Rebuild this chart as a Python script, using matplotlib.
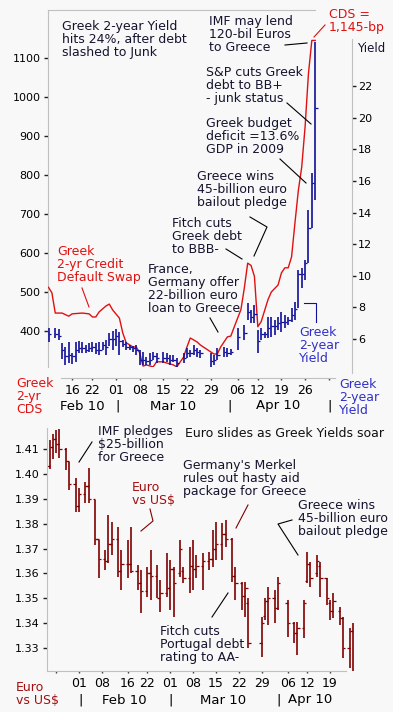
import matplotlib.pyplot as plt
from matplotlib.lines import Line2D
from matplotlib.transforms import blended_transform_factory

plt.rcParams['font.family'] = ['DejaVu Sans']

# days counted from 01 Mar 2010
# Greek 2-yr CDS (bp)
cds_day = [-20, -19, -18, -16, -14, -13, -10, -8, -7, -6, -5, -3, -2, -1, 1, 2, 3, 5, 6, 7,
           8, 9, 11, 12, 14, 15, 17, 18, 20, 21, 22, 24, 25, 29, 30, 31, 33, 34, 35, 37,
           38, 39, 40, 41, 42, 43, 45, 46, 48, 49, 50, 51, 52, 53, 54, 55, 56, 57, 58, 59]
cds_val = [512, 498, 446, 446, 438, 444, 446, 444, 436, 436, 449, 464, 469, 454, 433, 395, 370, 359, 359, 344,
           310, 313, 308, 321, 321, 318, 313, 308, 333, 359, 382, 372, 364, 341, 341, 359, 385, 387, 410, 455,
           510, 574, 568, 540, 411, 424, 480, 500, 518, 549, 562, 562, 590, 677, 760, 820, 923, 1060, 1145, 1145]

# Greek 2-year yield (%)
yld_day = [-20, -18, -17, -16, -15, -14, -13, -12, -11, -10, -9, -8, -7, -6, -5, -4, -3, -2, -1, 0,
           1, 2, 3, 4, 5, 6, 7, 8, 9, 10, 11, 12, 14, 15, 16, 17, 18, 20, 21, 22,
           23, 24, 25, 28, 29, 30, 32, 33, 34, 36, 38, 39, 40, 41, 42, 43, 44, 45, 46, 47,
           48, 49, 50, 51, 52, 53, 54, 55, 56, 57, 58, 59]
yld_high = [6.70, 6.70, 6.63, 5.75, 5.49, 5.81, 5.11, 5.81, 5.87, 5.81, 5.62, 5.75, 5.81, 5.75, 5.81, 5.81, 5.94, 6.38, 6.51, 6.63,
            6.44, 5.94, 5.81, 5.62, 5.56, 5.62, 5.30, 5.18, 4.86, 5.11, 5.18, 5.11, 5.18, 5.11, 4.99, 4.99, 4.80, 5.11, 5.43, 5.30,
            5.62, 5.43, 5.30, 5.11, 4.99, 5.43, 5.49, 5.43, 5.37, 6.70, 6.89, 8.28, 7.84, 8.15, 6.57, 6.70, 6.44, 7.39, 7.39, 7.20,
            7.39, 7.71, 7.52, 7.39, 7.96, 8.34, 10.37, 10.49, 11.0, 14.16, 16.5, 24.8]
yld_low = [5.81, 6.06, 5.94, 4.73, 4.35, 4.48, 4.42, 4.54, 5.11, 5.11, 5.11, 5.18, 5.18, 5.05, 4.99, 5.30, 4.99, 5.56, 5.30, 5.56,
           4.99, 5.49, 5.30, 5.30, 5.18, 4.99, 4.35, 4.35, 4.35, 4.35, 4.67, 4.48, 4.48, 4.54, 4.35, 4.54, 4.23, 4.48, 4.80, 4.86,
           4.99, 4.86, 4.80, 4.23, 4.35, 4.67, 4.86, 4.86, 4.99, 5.30, 5.94, 7.20, 7.01, 7.01, 5.11, 5.94, 6.06, 6.06, 6.13, 6.25,
           6.57, 6.44, 6.70, 6.89, 7.08, 7.20, 7.96, 9.23, 9.73, 10.81, 13.0, 14.8]
yld_close = [6.3, 6.3, 6.2, 5.3, 4.9, 5.0, 4.9, 5.3, 5.4, 5.4, 5.3, 5.4, 5.5, 5.3, 5.3, 5.6, 5.5, 6.0, 6.0, 6.2,
             5.9, 5.7, 5.5, 5.5, 5.4, 5.3, 4.7, 4.7, 4.6, 4.7, 4.9, 4.8, 4.8, 4.8, 4.7, 4.7, 4.5, 4.8, 5.1, 5.1,
             5.3, 5.2, 5.1, 4.6, 4.7, 5.0, 5.2, 5.1, 5.2, 6.1, 6.4, 7.7, 7.4, 7.6, 5.9, 6.3, 6.3, 6.7, 6.8, 6.8,
             7.0, 7.1, 7.1, 7.2, 7.5, 7.9, 10.1, 10.1, 10.8, 13.0, 15.9, 20.6]

# Euro vs US$
eur_day = [-37, -36, -35, -34, -32, -31, -29, -28, -26, -25, -23, -22, -20, -19, -18, -16, -15, -13, -12, -10,
           -9, -7, -6, -4, -3, -1, 0, 1, 3, 4, 6, 7, 8, 10, 12, 13, 14, 16, 17, 19,
           20, 22, 23, 24, 28, 29, 30, 32, 33, 36, 38, 39, 41, 42, 43, 45, 46, 48, 49, 50,
           52, 53, 55, 56]
eur_high = [1.4136, 1.4160, 1.4176, 1.4180, 1.4104, 1.4048, 1.3984, 1.3943, 1.3967, 1.4024, 1.3895, 1.3735, 1.3694, 1.3835, 1.3807, 1.3787, 1.3694, 1.3735, 1.3787, 1.3634,
            1.3614, 1.3626, 1.3694, 1.3634, 1.3574, 1.3682, 1.3654, 1.3626, 1.3735, 1.3626, 1.3706, 1.3735, 1.3674, 1.3682, 1.3686, 1.3775, 1.3807, 1.3803, 1.3815, 1.3743,
            1.3626, 1.3566, 1.3566, 1.3502, 1.3425, 1.3502, 1.3546, 1.3534, 1.3586, 1.3494, 1.3405, 1.3405, 1.3494, 1.3686, 1.3646, 1.3674, 1.3646, 1.3582, 1.3494, 1.3522,
            1.3465, 1.3425, 1.3381, 1.3401]
eur_low = [1.4020, 1.4060, 1.4084, 1.4064, 1.4016, 1.3935, 1.3847, 1.3847, 1.3883, 1.3883, 1.3714, 1.3582, 1.3614, 1.3642, 1.3674, 1.3586, 1.3534, 1.3582, 1.3602, 1.3534,
           1.3441, 1.3506, 1.3494, 1.3502, 1.3445, 1.3506, 1.3453, 1.3425, 1.3586, 1.3562, 1.3522, 1.3534, 1.3582, 1.3534, 1.3614, 1.3626, 1.3654, 1.3654, 1.3706, 1.3566,
           1.3494, 1.3453, 1.3425, 1.3301, 1.3265, 1.3413, 1.3393, 1.3401, 1.3453, 1.3345, 1.3321, 1.3273, 1.3341, 1.3562, 1.3546, 1.3586, 1.3506, 1.3473, 1.3413, 1.3421,
           1.3393, 1.3261, 1.3220, 1.3184]
eur_open = [1.4030, 1.4110, 1.4140, 1.4120, 1.4100, 1.4050, 1.3960, 1.3870, 1.3920, 1.3950, 1.3900, 1.3740, 1.3660, 1.3650, 1.3720, 1.3740, 1.3610, 1.3640, 1.3640, 1.3610,
            1.3560, 1.3530, 1.3600, 1.3590, 1.3500, 1.3520, 1.3540, 1.3620, 1.3600, 1.3610, 1.3580, 1.3630, 1.3620, 1.3630, 1.3650, 1.3660, 1.3700, 1.3720, 1.3760, 1.3740,
            1.3590, 1.3560, 1.3510, 1.3480, 1.3320, 1.3430, 1.3490, 1.3500, 1.3460, 1.3480, 1.3400, 1.3360, 1.3380, 1.3570, 1.3640, 1.3600, 1.3630, 1.3580, 1.3480, 1.3450,
            1.3450, 1.3420, 1.3300, 1.3370]
eur_close = [1.4110, 1.4140, 1.4120, 1.4100, 1.4050, 1.3960, 1.3870, 1.3920, 1.3950, 1.3900, 1.3740, 1.3660, 1.3650, 1.3720, 1.3740, 1.3610, 1.3640, 1.3640, 1.3610, 1.3560,
             1.3530, 1.3600, 1.3590, 1.3500, 1.3520, 1.3540, 1.3620, 1.3560, 1.3700, 1.3580, 1.3630, 1.3620, 1.3630, 1.3650, 1.3660, 1.3700, 1.3720, 1.3760, 1.3740, 1.3590,
             1.3560, 1.3510, 1.3540, 1.3320, 1.3400, 1.3490, 1.3500, 1.3460, 1.3560, 1.3400, 1.3360, 1.3380, 1.3480, 1.3640, 1.3580, 1.3650, 1.3580, 1.3500, 1.3450, 1.3490,
             1.3420, 1.3300, 1.3370, 1.3190]

top_ticks = [-13, -7, 0, 7, 14, 21, 28, 36, 42, 49, 56]
top_labels = ['16', '22', '01', '08', '15', '22', '29', '06', '12', '19', '26']
bot_ticks = [-28, -21, -13, -7, 0, 7, 14, 21, 28, 36, 42, 49]
bot_labels = ['01', '08', '16', '22', '01', '08', '15', '22', '29', '06', '12', '19']
cds_ticks = [400, 500, 600, 700, 800, 900, 1000, 1100]
yld_ticks = [6, 8, 10, 12, 14, 16, 18, 20, 22]
eur_ticks = [1.33, 1.34, 1.35, 1.36, 1.37, 1.38, 1.39, 1.40, 1.41]

W, H = 393, 712
BG = '#f8f8f8'
GRID = '#c0c0c0'
INK = '#14142e'
RED = '#e01010'
BLUE = '#3030c8'
NAVY = '#10109a'
MAROON = '#800000'
FS = 9
TFS = 8

fig = plt.figure(figsize=(W / 100, H / 100), dpi=100, facecolor=BG)


def fx(x):
    return x / W


def fy(y):
    return 1 - y / H


def note(x, y, s, color=INK, size=FS):
    fig.text(fx(x), fy(y), s, color=color, fontsize=size, va='top', ha='left',
             linespacing=1.0)


def seg(xs, ys, color='black'):
    fig.add_artist(Line2D([fx(v) for v in xs], [fy(v) for v in ys],
                          color=color, lw=0.8))


# ---------------- top chart: CDS + yield ----------------
ax1 = fig.add_axes([fx(48), fy(367), (352 - 48) / W, (367 - 10) / H])
ax1.set_facecolor('none')
ax2 = ax1.twinx()

ax1.set_xlim(-20.15, 69.9)
ax1.set_ylim(307.7, 1223)
ax2.set_ylim(4.228, 26.82)

ax1.plot(cds_day, cds_val, color=RED, lw=1.0, zorder=3)
ax2.vlines(yld_day, yld_low, yld_high, color=NAVY, lw=1.2)
ax2.hlines(yld_close, yld_day, [d + 0.7 for d in yld_day], color=NAVY, lw=0.9)

for s in ['top', 'bottom', 'left', 'right']:
    ax1.spines[s].set_color(GRID)
    ax2.spines[s].set_color(GRID)
ax1.spines['right'].set_visible(False)
ax2.spines['left'].set_visible(False)
ax2.spines['top'].set_visible(False)
ax2.spines['bottom'].set_visible(False)
ax1.spines['top'].set_bounds(-20.15, 59)
ax2.spines['right'].set_bounds(3.85, 25)
ax1.spines['bottom'].set_position(('outward', 7.9))
ax1.spines['bottom'].set_bounds(-16.3, 64.9)

ax1.set_yticks(cds_ticks)
ax1.tick_params(axis='y', length=3, width=1, color='#202020', pad=2.5, labelsize=TFS)
ax2.set_yticks(yld_ticks)
ax2.tick_params(axis='y', length=3, width=1, color='#202020', pad=1.5, labelsize=TFS)
ax1.set_xticks(top_ticks, top_labels)
ax1.set_xticks([63], minor=True)
ax1.tick_params(axis='x', which='both', length=1.5, width=1, color='#404040', pad=3,
                labelsize=FS)

tr1 = blended_transform_factory(ax1.transData, fig.transFigure)
for d, s in [(-10, 'Feb 10'), (16.9, 'Mar 10'), (48, 'Apr 10')]:
    ax1.text(d, fy(406), s, transform=tr1, ha='center', va='center', fontsize=9.5)
for d in [0.6, 33.5, 63.4]:
    ax1.text(d, fy(406), '|', transform=tr1, ha='center', va='center', fontsize=9.5)

# ---------------- bottom chart: Euro ----------------
ax3 = fig.add_axes([fx(47), fy(671), (360 - 47) / W, (671 - 428) / H])
ax3.set_facecolor('none')
ax3.set_xlim(-37.8, 58.2)
ax3.set_ylim(1.32084, 1.41843)

ax3.vlines(eur_day, eur_low, eur_high, color=MAROON, lw=1.2)
ax3.hlines(eur_open, [d - 0.7 for d in eur_day], eur_day, color=MAROON, lw=0.9)
ax3.hlines(eur_close, eur_day, [d + 0.7 for d in eur_day], color=MAROON, lw=0.9)

ax3.spines['top'].set_visible(False)
ax3.spines['right'].set_visible(False)
ax3.spines['left'].set_color(GRID)
ax3.spines['bottom'].set_color(GRID)
ax3.spines['bottom'].set_bounds(-37.8, 53.9)
ax3.set_yticks(eur_ticks, ['%.2f' % v for v in eur_ticks])
ax3.tick_params(axis='y', length=3, width=1, color='#202020', pad=2.5, labelsize=TFS)
ax3.set_xticks(bot_ticks, bot_labels)
ax3.set_xticks([-35], minor=True)
ax3.tick_params(axis='x', which='both', length=1.5, width=1, color='#404040', pad=3,
                labelsize=FS)

tr3 = blended_transform_factory(ax3.transData, fig.transFigure)
for d, s in [(-14.2, 'Feb 10'), (16.2, 'Mar 10'), (42.8, 'Apr 10')]:
    ax3.text(d, fy(700), s, transform=tr3, ha='center', va='center', fontsize=9.5)
for d in [-27.4, 0.2, 33.3]:
    ax3.text(d, fy(700), '|', transform=tr3, ha='center', va='center', fontsize=9.5)

# ---------------- notes ----------------
note(62, 20, 'Greek 2-year Yield\nhits 24%, after debt\nslashed to Junk')
note(209, 15, 'IMF may lend\n120-bil Euros\nto Greece')
seg([285, 307], [45, 43])
note(329, 8, 'CDS =\n1,145-bp', color=RED)
seg([325, 314], [25, 37], color=RED)
note(357, 42, 'Yield', size=8.5)
note(206, 66, "S&P cuts Greek\ndebt to BB+\n- junk status")
seg([287, 311], [103, 124])
note(206, 117, 'Greek budget\ndeficit =13.6%\nGDP in 2009')
seg([280, 306], [159, 183])
note(197, 170, 'Greece wins\n45-billion euro\nbailout pledge')
seg([250, 267, 254], [217, 227, 256])
note(172, 217, 'Fitch cuts\nGreek debt\nto BBB-')
seg([226, 242], [249, 259])
note(148, 263, 'France,\nGermany offer\n22-billion euro\nloan to Greece')
seg([210, 218], [318, 332])
note(57, 245, 'Greek\n2-yr Credit\nDefault Swap', color=RED)
seg([82, 89], [288, 307], color=RED)
note(299, 326, 'Greek\n2-year\nYield', color=BLUE)
seg([304, 316, 316], [303, 303, 322], color=NAVY)
note(16, 377, 'Greek\n2-yr\nCDS', color=RED)
note(339, 378, 'Greek\n2-year\nYield', color=BLUE)

note(98, 425, 'IMF pledges\n$25-billion\nfor Greece')
seg([92, 79], [442, 462])
note(185, 427, 'Euro slides as Greek Yields soar', color='#101010')
note(183, 459, "Germany's Merkel\nrules out hasty aid\npackage for Greece")
seg([248, 236], [505, 528], color=MAROON)
note(132, 481, 'Euro\nvs US$', color='#a01010')
seg([150, 153, 141], [509, 521, 531], color=MAROON)
note(298, 499, 'Greece wins\n45-billion euro\nbailout pledge')
seg([292, 278, 298], [520, 524, 555])
note(160, 625, 'Fitch cuts\nPortugal debt\nrating to AA-')
seg([212, 228], [617, 593])
note(16, 681, 'Euro\nvs US$', color='#a01010')

fig.savefig('out.png', dpi=100, facecolor=BG)
